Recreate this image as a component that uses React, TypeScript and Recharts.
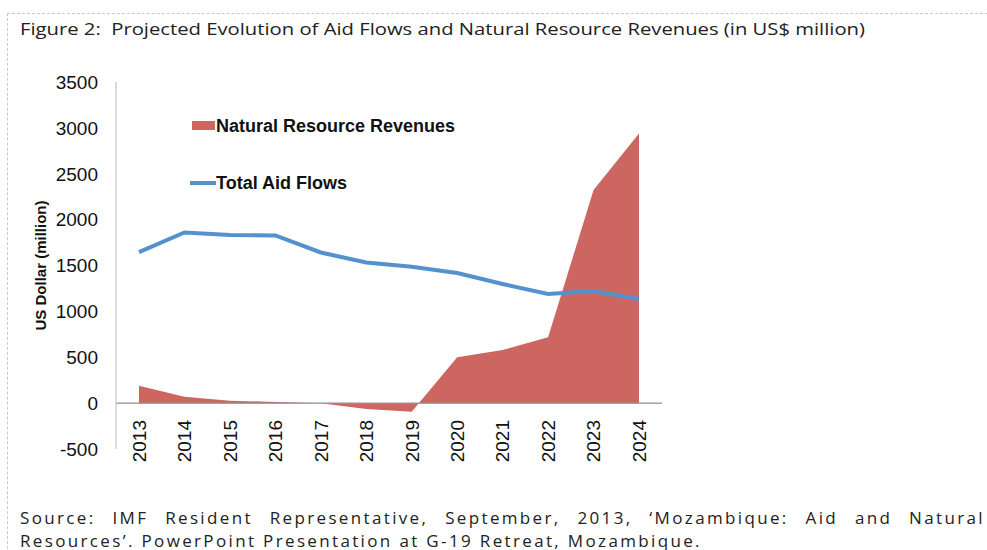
import React from 'react';
import {
  ComposedChart,
  Area,
  Line,
  XAxis,
  YAxis,
  ReferenceLine,
  Legend,
} from 'recharts';

const years = ['2013', '2014', '2015', '2016', '2017', '2018', '2019', '2020', '2021', '2022', '2023', '2024'];
const naturalResourceRevenues = [190, 70, 27, 13, 0, -63, -93, 499, 579, 717, 2322, 2938];
const totalAidFlows = [1645, 1860, 1832, 1827, 1642, 1533, 1487, 1418, 1298, 1189, 1222, 1135];
const yTicks = [-500, 0, 500, 1000, 1500, 2000, 2500, 3000, 3500];

const seriesNames = {
  nrr: 'Natural Resource Revenues',
  aid: 'Total Aid Flows',
};

const titleText = 'Figure 2:  Projected Evolution of Aid Flows and Natural Resource Revenues (in US$ million)';
const sourceLine1 = 'Source: IMF Resident Representative, September, 2013, \u2018Mozambique: Aid and Natural';
const sourceLine2 = 'Resources\u2019. PowerPoint Presentation at G-19 Retreat, Mozambique.';

const data = years.map((year, i) => ({
  year,
  nrr: naturalResourceRevenues[i],
  aid: totalAidFlows[i],
}));

const RED = '#CD6661';
const BLUE = '#5491CF';
const AXIS_FONT = '"Liberation Sans", Arial, sans-serif';

const XTick = (props: any) => {
  const { x, y, payload } = props;
  const ty = y - 29;
  return (
    <text
      x={x}
      y={ty}
      transform={`rotate(-90, ${x}, ${ty})`}
      textAnchor="end"
      dy="0.36em"
      fontFamily={AXIS_FONT}
      fontSize={19}
      fill="#111"
    >
      {payload.value}
    </text>
  );
};

const YTick = (props: any) => {
  const { x, y, payload } = props;
  return (
    <text x={x} y={y} textAnchor="end" dy="0.36em" fontFamily={AXIS_FONT} fontSize={19} fill="#111">
      {payload.value}
    </text>
  );
};

const LegendContent = (props: any) => {
  const { payload } = props;
  return (
    <div style={{ fontFamily: AXIS_FONT, fontWeight: 'bold', fontSize: 18, color: '#111' }}>
      {(payload || []).map((entry: any, idx: number) => (
        <div
          key={entry.value}
          style={{ display: 'flex', alignItems: 'center', height: 20, marginBottom: idx === 0 ? 37 : 0 }}
        >
          <svg width={26} height={20} style={{ display: 'block' }}>
            {entry.type === 'line' ? (
              <line x1={0} y1={10} x2={26} y2={10} stroke={entry.color} strokeWidth={4} />
            ) : (
              <rect x={2} y={5} width={23} height={9} fill={entry.color} />
            )}
          </svg>
          <span style={{ whiteSpace: 'nowrap' }}>{entry.value}</span>
        </div>
      ))}
    </div>
  );
};

export default function App() {
  return (
    <div style={{ position: 'absolute', left: 0, top: 0, width: 987, height: 550, background: '#fff', overflow: 'hidden' }}>
      <div
        style={{
          position: 'absolute',
          left: 7,
          top: 13,
          width: 990,
          height: 560,
          borderTop: '1px dashed #c9c9c9',
          borderLeft: '1px dashed #c9c9c9',
        }}
      />
      <svg style={{ position: 'absolute', left: 0, top: 0 }} width={987} height={50}>
        <text
          x={20}
          y={35}
          fontFamily='"Open Sans", "Noto Sans", sans-serif'
          fontSize={17}
          fill="#222"
          textLength={845}
          lengthAdjust="spacingAndGlyphs"
          style={{ whiteSpace: 'pre' }}
        >
          {titleText}
        </text>
      </svg>
      <div style={{ position: 'absolute', left: 0, top: 0 }}>
        <ComposedChart
          width={987}
          height={550}
          data={data}
          margin={{ top: 82, right: 325, bottom: 71, left: 30 }}
        >
          <XAxis
            dataKey="year"
            height={30}
            axisLine={false}
            tickLine={false}
            tickSize={0}
            tickMargin={0}
            interval={0}
            padding={{ left: 23, right: 23 }}
            tick={<XTick />}
          />
          <YAxis
            width={86}
            domain={[-500, 3500]}
            ticks={yTicks}
            interval={0}
            axisLine={{ stroke: '#cfcfcf', strokeWidth: 1.5 }}
            tickLine={false}
            tickSize={0}
            tickMargin={18}
            tick={<YTick />}
            label={{
              value: 'US Dollar (million)',
              angle: -90,
              position: 'insideLeft',
              offset: 11,
              style: { fontFamily: AXIS_FONT, fontWeight: 'bold', fontSize: 15, fill: '#111', textAnchor: 'middle' },
            }}
          />
          <Legend
            layout="vertical"
            align="center"
            verticalAlign="middle"
            wrapperStyle={{ left: 190, top: 116, width: 320 }}
            content={<LegendContent />}
          />
          <Area
            name={seriesNames.nrr}
            dataKey="nrr"
            type="linear"
            baseValue={0}
            fill={RED}
            fillOpacity={1}
            stroke="none"
            legendType="rect"
            isAnimationActive={false}
          />
          <ReferenceLine y={0} stroke="#8e8e8e" strokeWidth={1.2} />
          <Line
            name={seriesNames.aid}
            dataKey="aid"
            type="linear"
            stroke={BLUE}
            strokeWidth={4}
            dot={false}
            activeDot={false}
            legendType="line"
            isAnimationActive={false}
          />
        </ComposedChart>
      </div>
      <div
        style={{
          position: 'absolute',
          left: 20,
          top: 506,
          width: 965,
          fontFamily: '"Open Sans", "Noto Sans", sans-serif',
          fontSize: 17,
          letterSpacing: 2.35,
          lineHeight: '23px',
          color: '#222',
        }}
      >
        <div style={{ textAlign: 'justify', textAlignLast: 'justify', whiteSpace: 'nowrap' }}>{sourceLine1}</div>
        <div style={{ whiteSpace: 'nowrap' }}>{sourceLine2}</div>
      </div>
    </div>
  );
}
